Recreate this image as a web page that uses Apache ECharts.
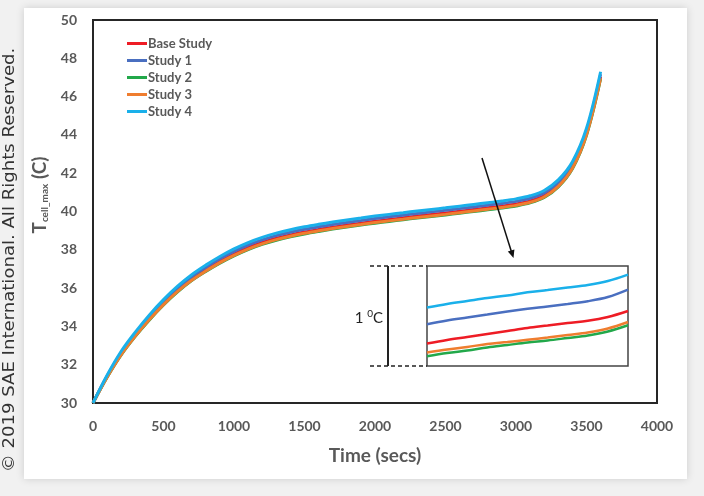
<!DOCTYPE html>
<html><head><meta charset="utf-8">
<script src="https://cdn.jsdelivr.net/npm/echarts@6/dist/echarts.min.js"></script>
<style>html,body{margin:0;padding:0;background:#f1f1f1}#c{width:704px;height:496px}</style>
</head><body><div id="c"></div>
<script>
// ---- data ----
var seriesNames = ['Base Study', 'Study 1', 'Study 2', 'Study 3', 'Study 4'];
var seriesColors = ['#ee1c25', '#4a6fc0', '#22a84a', '#ef7d2f', '#1ab0ea'];
var timeSecs = [0,100,200,300,400,500,600,700,800,900,1000,1100,1200,1300,1400,1500,1600,1700,1800,1900,2000,2100,2200,2300,2400,2500,2600,2700,2800,2900,3000,3100,3200,3300,3400,3500,3600];
var baseStudy = [30,31.37,32.56,33.54,34.41,35.2,35.88,36.47,36.96,37.39,37.78,38.11,38.38,38.6,38.78,38.93,39.06,39.18,39.29,39.39,39.49,39.58,39.67,39.76,39.84,39.92,40.01,40.1,40.19,40.28,40.39,40.55,40.83,41.38,42.33,44.08,47.03];
var study1 = [30,31.41,32.63,33.62,34.51,35.3,36.0,36.59,37.08,37.53,37.92,38.25,38.52,38.74,38.92,39.07,39.2,39.32,39.43,39.53,39.63,39.72,39.81,39.9,39.98,40.06,40.15,40.24,40.33,40.42,40.53,40.69,40.97,41.52,42.47,44.22,47.17];
var study2 = [30,31.34,32.51,33.48,34.34,35.12,35.8,36.39,36.87,37.3,37.68,38.01,38.28,38.5,38.68,38.83,38.96,39.08,39.19,39.29,39.39,39.48,39.57,39.66,39.74,39.82,39.91,40.0,40.09,40.18,40.29,40.45,40.73,41.28,42.23,43.98,46.93];
var study3 = [30,31.35,32.53,33.5,34.36,35.14,35.83,36.41,36.89,37.33,37.71,38.04,38.31,38.53,38.71,38.86,38.99,39.11,39.22,39.32,39.42,39.51,39.6,39.69,39.77,39.85,39.94,40.03,40.12,40.21,40.32,40.48,40.76,41.31,42.26,44.01,46.96];
var study4 = [30,31.45,32.7,33.7,34.6,35.4,36.1,36.7,37.2,37.65,38.05,38.38,38.65,38.87,39.05,39.2,39.33,39.45,39.56,39.66,39.76,39.85,39.94,40.03,40.11,40.19,40.28,40.37,40.46,40.55,40.66,40.82,41.1,41.65,42.6,44.35,47.3];
var xTicks = [0,500,1000,1500,2000,2500,3000,3500,4000];
var yTicks = [30,32,34,36,38,40,42,44,46,48,50];
// inset (zoomed view, 1 °C tall, position 0-100 % across)
var insetX = [0,10,20,30,40,50,60,70,80,90,100];
var insetBase = [0.224,0.26,0.29,0.32,0.35,0.38,0.405,0.43,0.452,0.49,0.55];
var insetS1 = [0.417,0.455,0.485,0.515,0.545,0.572,0.595,0.62,0.648,0.69,0.764];
var insetS2 = [0.097,0.13,0.155,0.185,0.21,0.235,0.255,0.28,0.305,0.345,0.407];
var insetS3 = [0.134,0.165,0.19,0.22,0.24,0.262,0.285,0.31,0.335,0.375,0.44];
var insetS4 = [0.584,0.62,0.65,0.68,0.705,0.737,0.76,0.785,0.81,0.85,0.914];

function pairs(xs, ys){ return xs.map(function(x,i){ return [x, ys[i]]; }); }
var mainData = [baseStudy, study1, study2, study3, study4];
var insetData = [insetBase, insetS1, insetS2, insetS3, insetS4];

var series = [];
mainData.forEach(function(d,i){
  series.push({name: seriesNames[i], type:'line', xAxisIndex:0, yAxisIndex:0, data: pairs(timeSecs,d),
    showSymbol:false, smooth:0.35, lineStyle:{width:3, color:seriesColors[i]}, itemStyle:{color:seriesColors[i]}, z: 2});
});
insetData.forEach(function(d,i){
  series.push({name: seriesNames[i]+' (inset)', type:'line', xAxisIndex:1, yAxisIndex:1, data: pairs(insetX,d),
    showSymbol:false, smooth:0.35, lineStyle:{width:2.5, color:seriesColors[i]}, itemStyle:{color:seriesColors[i]}, z: 12});
});

var lblColor = '#595959';
var chart = echarts.init(document.getElementById('c'));
chart.setOption({
  animation:false,
  backgroundColor:'#f1f1f1',
  grid:[
    {left:93, top:20, width:564, height:383, show:true, borderColor:'#262626', borderWidth:2, backgroundColor:'#fff'},
    {left:427, top:266, width:201, height:100, show:true, borderColor:'#444', borderWidth:1.5, backgroundColor:'#fff', z:5}
  ],
  legend:{data:seriesNames, orient:'vertical', left:122, top:32, icon:'rect', itemWidth:20, itemHeight:3, itemGap:4,
    textStyle:{color:lblColor, fontFamily:'Lato', fontWeight:'bold', fontSize:13, padding:[0,0,0,-4]}},
  xAxis:[
    {type:'value', gridIndex:0, min:0, max:4000, interval:500, axisLine:{show:false}, axisTick:{show:false}, splitLine:{show:false},
     axisLabel:{color:lblColor, fontFamily:'Lato', fontWeight:'bold', fontSize:14, margin:16, formatter:function(v){return String(v);}},
     name:'Time (secs)', nameLocation:'middle', nameGap:43, nameTextStyle:{color:lblColor, fontFamily:'Lato', fontWeight:'bold', fontSize:19}},
    {type:'value', gridIndex:1, min:0, max:100, show:false}
  ],
  yAxis:[
    {type:'value', gridIndex:0, min:30, max:50, interval:2, axisLine:{show:false}, axisTick:{show:false}, splitLine:{show:false},
     axisLabel:{color:lblColor, fontFamily:'Lato', fontWeight:'bold', fontSize:14, margin:16, formatter:function(v){return String(v);}}},
    {type:'value', gridIndex:1, min:0, max:1, show:false}
  ],
  graphic:[
    {type:'rect', z:-10, shape:{x:24, y:8, width:663, height:471}, style:{fill:'#fff', shadowBlur:8, shadowColor:'rgba(0,0,0,0.15)'}},
    {type:'text', x:10, y:260, rotation:Math.PI/2, scaleX:1.13, style:{text:'© 2019 SAE International. All Rights Reserved.', fill:'#333', fontFamily:'DejaVu Sans', fontSize:16, align:'center', verticalAlign:'middle'}},
    {type:'text', x:40, y:195, rotation:Math.PI/2, style:{text:'{t|T}{s|cell_max}{t| (C)}', align:'center', verticalAlign:'middle',
      rich:{t:{fill:lblColor, fontFamily:'Lato', fontWeight:'bold', fontSize:19}, s:{fill:lblColor, fontFamily:'Lato', fontWeight:'bold', fontSize:10, padding:[9,0,0,0]}}}},
    {type:'line', z:20, shape:{x1:482, y1:158, x2:511.5, y2:252}, style:{stroke:'#111', lineWidth:1.5}},
    {type:'polygon', z:20, shape:{points:[[513.5,258],[514.4,249.4],[507.8,251.5]]}, style:{fill:'#111'}},
    {type:'line', z:20, shape:{x1:370, y1:266, x2:427, y2:266}, style:{stroke:'#222', lineWidth:1.5, lineDash:[4,3]}},
    {type:'line', z:20, shape:{x1:370, y1:366, x2:427, y2:366}, style:{stroke:'#222', lineWidth:1.5, lineDash:[4,3]}},
    {type:'line', z:20, shape:{x1:388, y1:266, x2:388, y2:366}, style:{stroke:'#222', lineWidth:2}},
    {type:'text', z:20, x:383, y:318, style:{text:'{n|1 }{p|0}{n|C}', align:'right', verticalAlign:'middle',
      rich:{n:{fill:'#222', fontFamily:'Lato', fontSize:15}, p:{fill:'#222', fontFamily:'Lato', fontSize:10, padding:[0,0,9,0]}}}}
  ],
  series:series
});
</script></body></html>
